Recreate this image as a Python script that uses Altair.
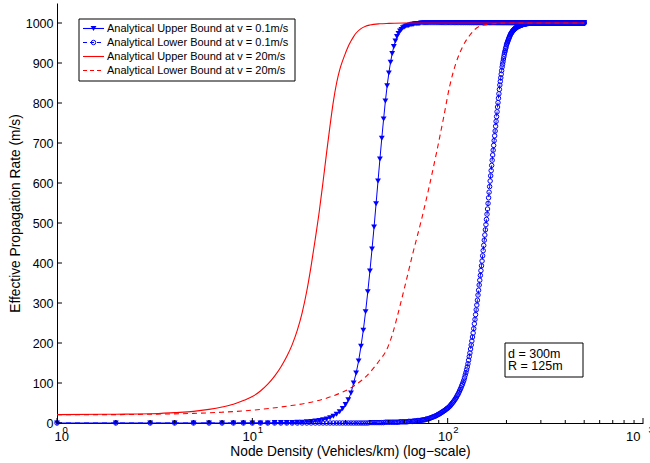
import altair as alt
import pandas as pd

# ---------------- data ----------------
series_names = [
    "Analytical Upper Bound at v = 0.1m/s",
    "Analytical Lower Bound at v = 0.1m/s",
    "Analytical Upper Bound at v = 20m/s",
    "Analytical Lower Bound at v = 20m/s",
]

# blue curves are sampled at every integer density 1..500 (vehicles/km)
density = list(range(1, 501))

upper_v01 = (
    [0] * 12 + [1, 1] + [1, 1, 2, 2, 3]
    + [4, 5, 6, 8, 10]
    + [13, 17, 22, 28, 36]
    + [46, 58, 75, 100, 125]
    + [155, 192, 232, 278, 328]
    + [380, 435, 490, 548, 605]
    + [660, 712, 760, 805, 843]
    + [875, 902, 924, 941, 955]
    + [966, 974, 980, 984, 988]
    + [990, 992, 993, 994, 995]
    + [996, 997, 997, 998, 998]
    + [999, 999, 999]
    + [1000] * 428
)

lower_v01 = (
    [0] * 39
    + [1, 1, 1, 1, 1]
    + [1, 1, 1, 2, 2]
    + [2, 2, 2, 2, 2]
    + [2, 2, 3, 3, 3]
    + [3, 3, 3, 4, 4]
    + [4, 4, 5, 5, 5]
    + [6, 6, 6, 7, 7]
    + [8, 8, 9, 10, 10]
    + [11, 12, 13, 14, 15]
    + [16, 17, 18, 19, 21]
    + [22, 23, 25, 26, 28]
    + [29, 31, 32, 34, 36]
    + [37, 39, 41, 43, 46]
    + [48, 51, 53, 56, 59]
    + [62, 65, 69, 72, 76]
    + [80, 84, 88, 93, 97]
    + [102, 107, 113, 120, 126]
    + [133, 140, 148, 157, 166]
    + [175, 185, 195, 205, 215]
    + [225, 236, 248, 259, 271]
    + [283, 295, 307, 320, 332]
    + [345, 357, 369, 381, 393]
    + [405, 418, 431, 444, 457]
    + [470, 483, 496, 509, 522]
    + [535, 549, 563, 577, 591]
    + [605, 618, 631, 644, 657]
    + [670, 682, 694, 706, 718]
    + [730, 742, 754, 766, 778]
    + [790, 801, 812, 823, 834]
    + [845, 854, 863, 872, 881]
    + [890, 897, 903, 910, 916]
    + [922, 927, 931, 936, 940]
    + [945, 948, 951, 954, 957]
    + [960, 962, 965, 967, 970]
    + [972, 974, 975, 977, 978]
    + [980, 981, 982, 983, 984]
    + [985, 986, 987, 987, 988]
    + [989, 990, 990, 991, 991]
    + [992, 992, 993, 993, 993]
    + [994, 994, 995, 995, 995]
    + [996, 996, 996, 996, 997]
    + [997, 997, 997, 998, 998]
    + [998, 998, 998, 998, 999]
    + [999, 999, 999, 999, 999]
    + [1000] * 241
)

upper_v20_density = [1, 2, 3, 4, 5, 6, 7, 8, 9, 10, 11, 12, 13, 14, 15, 16, 17, 18, 19, 20,
                     21, 22, 23, 24, 25, 26, 27, 28, 29, 30, 31, 32, 33, 34, 36, 38, 40, 45,
                     50, 60, 80, 100, 200, 500]
upper_v20 = [21, 22, 23, 26, 29, 34, 40, 47, 56, 66, 80, 97, 117, 140, 166, 196, 232, 276, 330, 393,
             460, 528, 602, 676, 744, 804, 850, 883, 906, 925, 942, 955, 966, 975, 986, 992, 995, 998,
             999, 1000, 1000, 1000, 1000, 1000]

lower_v20_density = [1, 2, 3, 5, 7, 10, 15, 20, 26, 33, 38.5, 45, 48.7, 52, 56, 60.4, 66, 73.5, 80,
                     87.7, 95, 102.5, 110, 119.9, 130, 146, 170, 200, 300, 500]
lower_v20 = [21, 21, 22, 24, 27, 32, 42, 52, 68, 92, 118, 158, 183, 220, 278, 342, 420, 509, 586,
             676, 760, 843, 898, 943, 970, 992, 998, 1000, 1000, 1000]

x_major = [1, 10, 100, 1000]
x_exponents = ["0", "1", "2", "3"]
x_minor = [2, 3, 4, 5, 6, 7, 8, 9, 20, 30, 40, 50, 60, 70, 80, 90,
           200, 300, 400, 500, 600, 700, 800, 900]
y_ticks = [0, 100, 200, 300, 400, 500, 600, 700, 800, 900, 1000]

annotation_lines = ["d = 300m", "R = 125m"]

assert len(upper_v01) == 500 and len(lower_v01) == 500

# ---------------- styling ----------------
FONT = "Liberation Sans"
BLUE = "#0000ff"
RED = "#ff0000"
W, H = 586, 420

xscale = alt.Scale(type="log", domain=[1, 1000], nice=False)
yscale = alt.Scale(domain=[0, 1050], nice=False, zero=False)

X_TITLE = "Node Density (Vehicles/km) (log\u2212scale)"
Y_TITLE = "Effective Propagation Rate (m/s)"

x_axis = alt.Axis(
    values=x_major, labelExpr="'10'", tickSize=0, labelPadding=7, labelOffset=-3,
    labelFont=FONT, labelFontSize=13, labelColor="black",
    domainColor="black", domainWidth=1, grid=False,
    title=X_TITLE, titleFont=FONT, titleFontSize=13.75,
    titleFontWeight="normal", titleColor="black", titlePadding=1,
)
y_axis = alt.Axis(
    values=y_ticks, format="d", tickSize=0, labelPadding=4,
    labelFont=FONT, labelFontSize=12.5, labelColor="black",
    domainColor="black", domainWidth=1, grid=False,
    title=Y_TITLE, titleFont=FONT, titleFontSize=13.75,
    titleFontWeight="normal", titleColor="black", titlePadding=3,
)


def X(field):
    return alt.X(field, scale=xscale, axis=x_axis, title=X_TITLE)


def Y(field):
    return alt.Y(field, scale=yscale, axis=y_axis, title=Y_TITLE)


bu = pd.DataFrame({"density": density, "rate": upper_v01})
bl = pd.DataFrame({"density": density, "rate": lower_v01})
ru = pd.DataFrame({"density": upper_v20_density, "rate": upper_v20})
rl = pd.DataFrame({"density": lower_v20_density, "rate": lower_v20})

enc = dict(x=X("density:Q"), y=Y("rate:Q"))

bu_line = alt.Chart(bu).mark_line(color=BLUE, strokeWidth=1).encode(**enc)
bu_pts = alt.Chart(bu).mark_point(shape="triangle-down", filled=True, size=34,
                                  color=BLUE, opacity=1).encode(**enc)
bl_line = alt.Chart(bl).mark_line(color=BLUE, strokeWidth=1, strokeDash=[5, 4]).encode(**enc)
bl_pts = alt.Chart(bl).mark_point(shape="circle", filled=False, size=20, strokeWidth=1,
                                  color=BLUE, opacity=1).encode(**enc)
ru_line = alt.Chart(ru).mark_line(color=RED, strokeWidth=1.1, interpolate="monotone").encode(**enc)
rl_line = alt.Chart(rl).mark_line(color=RED, strokeWidth=1.1, strokeDash=[5, 4],
                                  interpolate="monotone").encode(**enc)

# inward ticks
yt = alt.Chart(pd.DataFrame({"rate": y_ticks})).mark_rule(color="black", strokeWidth=1).encode(
    y=Y("rate:Q"), x=alt.value(0), x2=alt.value(5))
xt_major = alt.Chart(pd.DataFrame({"density": x_major})).mark_rule(color="black", strokeWidth=1).encode(
    x=X("density:Q"), y=alt.value(H), y2=alt.value(H - 5))
xt_minor = alt.Chart(pd.DataFrame({"density": x_minor})).mark_rule(color="black", strokeWidth=1).encode(
    x=X("density:Q"), y=alt.value(H), y2=alt.value(H - 3))
x_exp = alt.Chart(pd.DataFrame({"density": x_major, "e": x_exponents})).mark_text(
    align="left", baseline="top", dx=5.5, font=FONT, fontSize=9.5, color="black").encode(
    x=X("density:Q"), y=alt.value(H + 1.5), text="e:N")

# legend (drawn by hand, MATLAB-style)
one = pd.DataFrame({"k": [0]})
legend_layers = [
    alt.Chart(one).mark_rect(fill="white", stroke="black", strokeWidth=1).encode(
        x=alt.value(22), x2=alt.value(238), y=alt.value(16), y2=alt.value(78))
]
leg_colors = [BLUE, BLUE, RED, RED]
leg_dash = [None, [4, 3], None, [4, 3]]
leg_shape = ["triangle-down", "circle", None, None]
for i, name in enumerate(series_names):
    yy = 25.5 + 14 * i
    kw = dict(color=leg_colors[i], strokeWidth=1.1)
    if leg_dash[i] is not None:
        kw["strokeDash"] = leg_dash[i]
    legend_layers.append(alt.Chart(one).mark_rule(**kw).encode(
        x=alt.value(26), x2=alt.value(47), y=alt.value(yy)))
    if leg_shape[i] == "triangle-down":
        legend_layers.append(alt.Chart(one).mark_point(
            shape="triangle-down", filled=True, size=34, color=BLUE, opacity=1).encode(
            x=alt.value(36.5), y=alt.value(yy)))
    elif leg_shape[i] == "circle":
        legend_layers.append(alt.Chart(one).mark_point(
            shape="circle", filled=False, size=20, strokeWidth=1, color=BLUE, opacity=1).encode(
            x=alt.value(36.5), y=alt.value(yy)))
    legend_layers.append(alt.Chart(pd.DataFrame({"label": [name]})).mark_text(
        align="left", baseline="middle", font=FONT, fontSize=11, color="black").encode(
        x=alt.value(50), y=alt.value(yy), text="label:N"))

# annotation box
annot_layers = [
    alt.Chart(one).mark_rect(fill="white", stroke="black", strokeWidth=1).encode(
        x=alt.value(448), x2=alt.value(526), y=alt.value(340), y2=alt.value(374))
]
for i, t in enumerate(annotation_lines):
    annot_layers.append(alt.Chart(pd.DataFrame({"t": [t]})).mark_text(
        align="left", baseline="middle", font=FONT, fontSize=12.5, color="black").encode(
        x=alt.value(451), y=alt.value(350.5 + 12.8 * i), text="t:N"))

chart = alt.layer(
    bu_line, bu_pts, bl_line, bl_pts, ru_line, rl_line,
    yt, xt_major, xt_minor, x_exp,
    *legend_layers, *annot_layers,
).properties(
    width=W, height=H,
    padding={"left": 57, "top": 3, "right": 7, "bottom": 40},
    autosize=alt.AutoSizeParams(type="none"),
    background="white",
).configure_view(strokeWidth=0)

chart.save("out.html", embed_options={"renderer": "svg", "actions": False})
